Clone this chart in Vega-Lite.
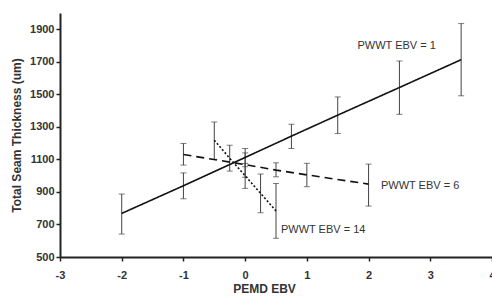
{
  "$schema": "https://vega.github.io/schema/vega-lite/v6.json",
  "autosize": "none",
  "width": 432,
  "height": 244,
  "padding": {"left": 60, "top": 13, "right": 0, "bottom": 43},
  "background": "white",
  "config": {
    "view": {"stroke": null},
    "font": "Liberation Sans",
    "axis": {
      "grid": false,
      "labelOverlap": false,
      "domainColor": "#222", "domainWidth": 2,
      "tickColor": "#222", "tickWidth": 1.5, "tickSize": 4,
      "labelFont": "Liberation Sans", "labelFontSize": 11, "labelFontWeight": "bold", "labelColor": "#333",
      "titleFont": "Liberation Sans", "titleFontSize": 12, "titleFontWeight": "bold", "titleColor": "#333"
    },
    "axisX": {"labelPadding": 8, "labelFlush": false, "titlePadding": 3, "titleX": 204},
    "axisY": {"labelPadding": 2, "titlePadding": 6}
  },
  "datasets": {
    "pts": [
      {"s": "1", "x": -2, "y": 768, "lo": 641, "hi": 887},
      {"s": "1", "x": -1, "y": 938, "lo": 858, "hi": 1017},
      {"s": "1", "x": 0, "y": 1112, "lo": 1055, "hi": 1167},
      {"s": "1", "x": 0.75, "y": 1243, "lo": 1167, "hi": 1316},
      {"s": "1", "x": 1.5, "y": 1372, "lo": 1259, "hi": 1484},
      {"s": "1", "x": 2.5, "y": 1542, "lo": 1377, "hi": 1705},
      {"s": "1", "x": 3.5, "y": 1713, "lo": 1491, "hi": 1935},
      {"s": "6", "x": -1, "y": 1130, "lo": 1065, "hi": 1198},
      {"s": "6", "x": 0, "y": 1068, "lo": 990, "hi": 1140},
      {"s": "6", "x": 0.5, "y": 1034, "lo": 993, "hi": 1079},
      {"s": "6", "x": 1, "y": 1005, "lo": 932, "hi": 1076},
      {"s": "6", "x": 2, "y": 948, "lo": 813, "hi": 1071},
      {"s": "14", "x": -0.5, "y": 1218, "lo": 1100, "hi": 1330},
      {"s": "14", "x": -0.25, "y": 1107, "lo": 1028, "hi": 1187},
      {"s": "14", "x": 0, "y": 1000, "lo": 922, "hi": 1075},
      {"s": "14", "x": 0.25, "y": 892, "lo": 772, "hi": 1010},
      {"s": "14", "x": 0.5, "y": 783, "lo": 615, "hi": 952}
    ],
    "labels": [
      {"x": 1.82, "y": 1795, "t": "PWWT EBV = 1"},
      {"x": 2.2, "y": 936, "t": "PWWT EBV = 6"},
      {"x": 0.58, "y": 666, "t": "PWWT EBV = 14"}
    ]
  },
  "layer": [
    {
      "data": {"name": "pts"},
      "mark": {"type": "rule", "color": "#444", "strokeWidth": 1},
      "encoding": {
        "x": {
          "field": "x", "type": "quantitative",
          "scale": {"domain": [-3, 4], "nice": false, "zero": false},
          "axis": {"title": "PEMD EBV", "values": [-3, -2, -1, 0, 1, 2, 3, 4], "labelExpr": "'' + datum.value"}
        },
        "y": {
          "field": "lo", "type": "quantitative",
          "scale": {"domain": [500, 2000], "nice": false, "zero": false},
          "axis": {"title": "Total Seam Thickness (um)", "values": [500, 700, 900, 1100, 1300, 1500, 1700, 1900], "labelExpr": "'' + datum.value"}
        },
        "y2": {"field": "hi"}
      }
    },
    {
      "data": {"name": "pts"},
      "mark": {"type": "tick", "orient": "horizontal", "color": "#444", "size": 6, "thickness": 1},
      "encoding": {
        "x": {"field": "x", "type": "quantitative", "axis": {"title": "PEMD EBV", "values": [-3, -2, -1, 0, 1, 2, 3, 4], "labelExpr": "'' + datum.value"}},
        "y": {"field": "lo", "type": "quantitative", "axis": {"title": "Total Seam Thickness (um)", "values": [500, 700, 900, 1100, 1300, 1500, 1700, 1900], "labelExpr": "'' + datum.value"}}
      }
    },
    {
      "data": {"name": "pts"},
      "mark": {"type": "tick", "orient": "horizontal", "color": "#444", "size": 6, "thickness": 1},
      "encoding": {
        "x": {"field": "x", "type": "quantitative", "axis": {"title": "PEMD EBV", "values": [-3, -2, -1, 0, 1, 2, 3, 4], "labelExpr": "'' + datum.value"}},
        "y": {"field": "hi", "type": "quantitative", "axis": {"title": "Total Seam Thickness (um)", "values": [500, 700, 900, 1100, 1300, 1500, 1700, 1900], "labelExpr": "'' + datum.value"}}
      }
    },
    {
      "data": {"name": "pts"},
      "mark": {"type": "line", "color": "#111", "strokeWidth": 1.6},
      "encoding": {
        "x": {"field": "x", "type": "quantitative", "axis": {"title": "PEMD EBV", "values": [-3, -2, -1, 0, 1, 2, 3, 4], "labelExpr": "'' + datum.value"}},
        "y": {"field": "y", "type": "quantitative", "axis": {"title": "Total Seam Thickness (um)", "values": [500, 700, 900, 1100, 1300, 1500, 1700, 1900], "labelExpr": "'' + datum.value"}},
        "detail": {"field": "s"},
        "order": {"field": "x"},
        "strokeDash": {
          "field": "s", "type": "nominal",
          "scale": {"domain": ["1", "6", "14"], "range": [[1, 0], [8, 5], [2, 2]]},
          "legend": null
        }
      }
    },
    {
      "data": {"name": "labels"},
      "mark": {"type": "text", "align": "left", "baseline": "middle", "font": "Liberation Sans", "fontSize": 11, "color": "#333"},
      "encoding": {
        "x": {"field": "x", "type": "quantitative", "axis": {"title": "PEMD EBV", "values": [-3, -2, -1, 0, 1, 2, 3, 4], "labelExpr": "'' + datum.value"}},
        "y": {"field": "y", "type": "quantitative", "axis": {"title": "Total Seam Thickness (um)", "values": [500, 700, 900, 1100, 1300, 1500, 1700, 1900], "labelExpr": "'' + datum.value"}},
        "text": {"field": "t"}
      }
    }
  ]
}
